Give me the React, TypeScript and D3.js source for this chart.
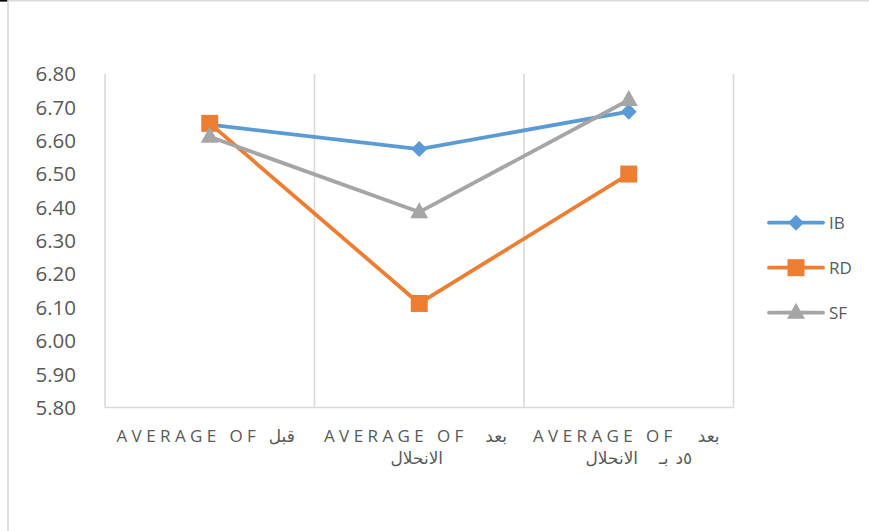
import React from 'react';
import * as d3 from 'd3';

const categories = ['before', 'after', 'after5'];
const seriesNames = ['IB', 'RD', 'SF'];
const ibValues = [6.648, 6.575, 6.687];
const rdValues = [6.652, 6.112, 6.5];
const sfValues = [6.612, 6.386, 6.722];
const yTicks = [5.8, 5.9, 6.0, 6.1, 6.2, 6.3, 6.4, 6.5, 6.6, 6.7, 6.8];

// label pieces per category: [text, dx from band centre, line, anchor, latin]
const labelPieces: [string, number, number, string, boolean][][] = [
  [['AVERAGE OF', 50.5, 0, 'end', true], ['قبل', 59, 0, 'start', false]],
  [['AVERAGE OF', 48.5, 0, 'end', true], ['بعد', 66, 0, 'start', false], ['الانحلال', -2.5, 1, 'middle', false]],
  [['AVERAGE OF', 48, 0, 'end', true], ['بعد', 69, 0, 'start', false],
   ['الانحلال', -17, 1, 'middle', false], ['بـ', 35, 1, 'middle', false], ['٥د', 55, 1, 'middle', false]],
];

const W = 869;
const H = 531;
const plot = { left: 105, right: 733.5, top: 74, bottom: 407.5 };
const colors = ['#5B9BD5', '#ED7D31', '#A5A5A5'];
const allValues = [ibValues, rdValues, sfValues];

const marker = (i: number, x: number, y: number, key: string) => {
  const c = colors[i];
  if (i === 0) {
    const r = 8;
    return <path key={key} d={`M${x},${y - r}L${x + r},${y}L${x},${y + r}L${x - r},${y}Z`} fill={c} />;
  }
  if (i === 1) {
    const s = 17;
    return <rect key={key} x={x - s / 2} y={y - s / 2} width={s} height={s} fill={c} />;
  }
  const w = 18, h = 16;
  return <path key={key} d={`M${x},${y - h * 0.62}L${x + w / 2},${y + h * 0.38}L${x - w / 2},${y + h * 0.38}Z`} fill={c} />;
};

export default function App() {
  const x = d3.scaleBand<string>().domain(categories).range([plot.left, plot.right]);
  const y = d3.scaleLinear().domain([5.8, 6.8]).range([plot.bottom, plot.top]);
  const cx = (c: string) => (x(c) as number) + x.bandwidth() / 2;
  const line = d3.line<number>().x((_, i) => cx(categories[i])).y(d => y(d));

  const legendY = d3.scalePoint<string>().domain(seriesNames).range([222.7, 312.7]);
  const font = '"Open Sans", sans-serif';
  const arabicFont = '"DejaVu Sans", sans-serif';

  return (
    <svg width={W} height={H} style={{ position: 'absolute', left: 0, top: 0, background: '#fff' }}>
      <line x1={0} x2={8} y1={0.8} y2={0.8} stroke="#000" strokeWidth={1.6} />
      <line x1={8} x2={W} y1={0.8} y2={0.8} stroke="#D9D9D9" strokeWidth={1.6} />
      <line x1={8} x2={8} y1={0} y2={H} stroke="#D9D9D9" strokeWidth={1.6} />

      {/* vertical gridlines at band boundaries */}
      {categories.map(c => (
        <line key={c} x1={(x(c) as number) + x.bandwidth()} x2={(x(c) as number) + x.bandwidth()}
          y1={plot.top} y2={plot.bottom} stroke="#D9D9D9" strokeWidth={1.6} />
      ))}
      <line x1={plot.left} x2={plot.left} y1={plot.top} y2={plot.bottom} stroke="#D9D9D9" strokeWidth={1.6} />
      <line x1={plot.left} x2={plot.right} y1={plot.bottom} y2={plot.bottom} stroke="#D9D9D9" strokeWidth={1.6} />

      {yTicks.map(t => (
        <text key={t} x={76} y={y(t)} dy="0.36em" textAnchor="end" fontFamily={font} fontSize={20.5} fill="#595959">
          {d3.format('.2f')(t)}
        </text>
      ))}

      {categories.map((c, ci) => labelPieces[ci].map(([txt, dx, ln, anchor, latin], k) => (
        <text key={c + k} x={cx(c) + dx} y={442 + ln * 22} textAnchor={anchor}
          fontFamily={latin ? font : arabicFont} fontSize={latin ? 17 : 17}
          letterSpacing={latin ? 4.4 : 0} fill="#595959">{txt}</text>
      )))}

      {allValues.map((vals, i) => (
        <g key={seriesNames[i]}>
          <path d={line(vals) as string} fill="none" stroke={colors[i]} strokeWidth={3.8} strokeLinejoin="round" strokeLinecap="round" />
          {vals.map((v, j) => marker(i, cx(categories[j]), y(v), `${i}-${j}`))}
        </g>
      ))}

      {seriesNames.map((s, i) => {
        const ly = legendY(s) as number;
        return (
          <g key={s}>
            <line x1={769} x2={823} y1={ly} y2={ly} stroke={colors[i]} strokeWidth={3.8} strokeLinecap="round" />
            {marker(i, 796, ly, 'lg' + s)}
            <text x={829} y={ly} dy="0.36em" fontFamily={font} fontSize={17} fill="#595959">{s}</text>
          </g>
        );
      })}
    </svg>
  );
}
